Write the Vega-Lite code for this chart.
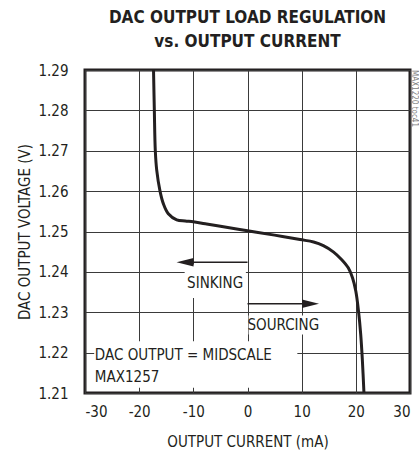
{
  "$schema": "https://vega.github.io/schema/vega-lite/v6.json",
  "width": 325,
  "height": 323,
  "autosize": "none",
  "padding": {"left": 85, "top": 70, "right": 9, "bottom": 64},
  "background": "white",
  "title": {
    "text": ["DAC OUTPUT LOAD REGULATION", "vs. OUTPUT CURRENT"],
    "font": "DejaVu Sans Condensed, Liberation Sans Narrow, Roboto Condensed, Arial Narrow, Roboto",
    "fontSize": 17,
    "fontWeight": "bold",
    "lineHeight": 24,
    "color": "#231f20",
    "anchor": "middle",
    "offset": 12
  },
  "config": {
    "font": "DejaVu Sans Condensed, Liberation Sans Narrow, Roboto Condensed, Arial Narrow, Roboto",
    "view": {"stroke": "#231f20", "strokeWidth": 3},
    "axis": {
      "grid": true,
      "gridColor": "#3a3a3a",
      "gridWidth": 1,
      "gridOpacity": 1,
      "domain": false,
      "ticks": false,
      "labelFont": "DejaVu Sans Condensed, Liberation Sans Narrow, Roboto Condensed, Arial Narrow, Roboto",
      "labelFontSize": 15,
      "labelColor": "#231f20",
      "titleFont": "DejaVu Sans Condensed, Liberation Sans Narrow, Roboto Condensed, Arial Narrow, Roboto",
      "titleFontSize": 15,
      "titleFontWeight": "normal",
      "titleColor": "#231f20"
    }
  },
  "datasets": {
    "curve": [
      {"current": -17.35, "voltage": 1.29},
      {"current": -17.2, "voltage": 1.28},
      {"current": -17.02, "voltage": 1.27},
      {"current": -16.76, "voltage": 1.2652},
      {"current": -16.15, "voltage": 1.26},
      {"current": -15.54, "voltage": 1.2569},
      {"current": -14.62, "voltage": 1.2544},
      {"current": -13.07, "voltage": 1.2529},
      {"current": -11.5, "voltage": 1.2526},
      {"current": -10, "voltage": 1.2524},
      {"current": -7.8, "voltage": 1.2519},
      {"current": -5, "voltage": 1.2513},
      {"current": 0, "voltage": 1.2502},
      {"current": 5, "voltage": 1.2491},
      {"current": 9.7, "voltage": 1.248},
      {"current": 12.2, "voltage": 1.2474},
      {"current": 14.0, "voltage": 1.2465},
      {"current": 15.9, "voltage": 1.2449},
      {"current": 17.4, "voltage": 1.243},
      {"current": 18.6, "voltage": 1.241},
      {"current": 19.4, "voltage": 1.2385},
      {"current": 20.0, "voltage": 1.2352},
      {"current": 20.5, "voltage": 1.2302},
      {"current": 20.9, "voltage": 1.2245},
      {"current": 21.2, "voltage": 1.2183},
      {"current": 21.5, "voltage": 1.21}
    ],
    "boxes": [
      {"x1": -11.6, "x2": -0.3, "y1": 1.2418, "y2": 1.2335},
      {"x1": 0.2, "x2": 13.6, "y1": 1.2292, "y2": 1.2245},
      {"x1": -28.3, "x2": 9.2, "y1": 1.2228, "y2": 1.2113}
    ],
    "arrows": [
      {"from": 0, "to": -11.5, "tip": -13.1, "voltage": 1.2424, "dir": "left"},
      {"from": 0, "to": 11.6, "tip": 13.2, "voltage": 1.2321, "dir": "right"}
    ],
    "labels": [
      {"current": -11.15, "voltage": 1.2372, "text": "SINKING"},
      {"current": 0.0, "voltage": 1.2268, "text": "SOURCING"},
      {"current": -28.18, "voltage": 1.2193, "text": "DAC OUTPUT = MIDSCALE"},
      {"current": -28.18, "voltage": 1.214, "text": "MAX1257"}
    ],
    "tag": [
      {"current": 30, "voltage": 1.29, "text": "MAX1220 toc41"}
    ]
  },
  "encoding": {
    "x": {
      "type": "quantitative",
      "scale": {"domain": [-30, 30], "nice": false, "zero": false},
      "axis": {
        "title": "OUTPUT CURRENT (mA)",
        "values": [-30, -20, -10, 0, 10, 20, 30],
        "labelExpr": "replace(datum.label, '\u2212', '-')",
        "labelPadding": 11,
        "titlePadding": 15
      }
    },
    "y": {
      "type": "quantitative",
      "scale": {"domain": [1.21, 1.29], "nice": false, "zero": false},
      "axis": {
        "title": "DAC OUTPUT VOLTAGE (V)",
        "values": [1.21, 1.22, 1.23, 1.24, 1.25, 1.26, 1.27, 1.28, 1.29],
        "format": ".2f",
        "labelPadding": 17,
        "titlePadding": 5
      }
    }
  },
  "layer": [
    {
      "data": {"name": "boxes"},
      "mark": {"type": "rect", "fill": "white", "stroke": null},
      "encoding": {
        "x": {"field": "x1", "type": "quantitative"},
        "x2": {"field": "x2"},
        "y": {"field": "y1", "type": "quantitative"},
        "y2": {"field": "y2"}
      }
    },
    {
      "data": {"name": "arrows"},
      "mark": {"type": "rule", "color": "#231f20", "strokeWidth": 1.5},
      "encoding": {
        "x": {"field": "from", "type": "quantitative"},
        "x2": {"field": "to"},
        "y": {"field": "voltage", "type": "quantitative"}
      }
    },
    {
      "data": {"name": "arrows"},
      "mark": {"type": "point", "filled": true, "color": "#231f20", "opacity": 1, "size": 289, "strokeWidth": 0},
      "encoding": {
        "x": {"field": "tip", "type": "quantitative"},
        "y": {"field": "voltage", "type": "quantitative"},
        "shape": {
          "field": "dir",
          "type": "nominal",
          "scale": {"domain": ["left", "right"], "range": ["M0,0L2,-0.5L2,0.5Z", "M0,0L-2,-0.5L-2,0.5Z"]},
          "legend": null
        }
      }
    },
    {
      "data": {"name": "labels"},
      "mark": {"type": "text", "align": "left", "baseline": "middle", "fontSize": 15, "color": "#231f20"},
      "encoding": {
        "x": {"field": "current", "type": "quantitative"},
        "y": {"field": "voltage", "type": "quantitative"},
        "text": {"field": "text"}
      }
    },
    {
      "data": {"name": "tag"},
      "mark": {"type": "text", "align": "left", "baseline": "alphabetic", "angle": 90, "fontSize": 8, "color": "#808080", "dy": -2},
      "encoding": {
        "x": {"field": "current", "type": "quantitative"},
        "y": {"field": "voltage", "type": "quantitative"},
        "text": {"field": "text"}
      }
    },
    {
      "data": {"name": "curve"},
      "mark": {"type": "line", "color": "#231f20", "strokeWidth": 3, "interpolate": "catmull-rom", "clip": true},
      "encoding": {
        "x": {"field": "current", "type": "quantitative"},
        "y": {"field": "voltage", "type": "quantitative"},
        "order": {"field": "voltage", "sort": "descending"}
      }
    }
  ]
}
